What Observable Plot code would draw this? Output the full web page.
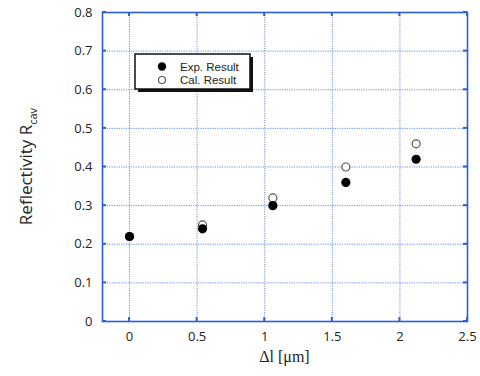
<!DOCTYPE html>
<html>
<head>
<meta charset="utf-8">
<script src="https://cdn.jsdelivr.net/npm/d3@7"></script>
<script src="https://cdn.jsdelivr.net/npm/@observablehq/plot@0.6"></script>
<style>
  html, body { margin: 0; padding: 0; background: #fff; }
  #chart { width: 480px; height: 376px; }
</style>
</head>
<body>
<div id="chart"></div>
<script>
// Data
const deltaL = [0, 0.54, 1.06, 1.6, 2.12];
const expResult = [0.22, 0.24, 0.30, 0.36, 0.42];
const calResult = [0.22, 0.25, 0.32, 0.40, 0.46];
const xTicks = [0, 0.5, 1, 1.5, 2, 2.5];
const yTicks = [0, 0.1, 0.2, 0.3, 0.4, 0.5, 0.6, 0.7, 0.8];
const legendLabels = ["Exp. Result", "Cal. Result"];

const expData = deltaL.map((x, i) => ({x, y: expResult[i]}));
const calData = deltaL.map((x, i) => ({x, y: calResult[i]}));

const blue = "#2a5fd8";
const fmt = d => String(d);
const M = {left: 102, right: 13, top: 12, bottom: 55};

const plot = Plot.plot({
  width: 480,
  height: 376,
  marginLeft: M.left,
  marginRight: M.right,
  marginTop: M.top,
  marginBottom: M.bottom,
  style: {fontFamily: "'Open Sans', sans-serif", fontSize: "13px", color: "#222", background: "#fff"},
  x: {domain: [-0.2, 2.5], ticks: xTicks, tickFormat: fmt, label: null},
  y: {domain: [0, 0.8], ticks: yTicks, tickFormat: fmt, label: null},
  marks: [
    Plot.gridX(xTicks, {stroke: blue, strokeOpacity: 0.7, strokeDasharray: "1.2,1.2", strokeWidth: 1}),
    Plot.gridY(yTicks, {stroke: blue, strokeOpacity: 0.7, strokeDasharray: "1.2,1.2", strokeWidth: 1}),
    Plot.axisX(xTicks, {tickSize: 0, tickPadding: 10, tickFormat: fmt, fill: "#222", fontSize: 13}),
    Plot.axisY(yTicks, {tickSize: 0, tickPadding: 10, tickFormat: fmt, fill: "#222", fontSize: 13}),
    Plot.frame({stroke: blue, strokeWidth: 1.6}),
    Plot.dot(calData, {x: "x", y: "y", r: 4, stroke: "#555", strokeWidth: 1.2, fill: "white"}),
    Plot.dot(expData, {x: "x", y: "y", r: 4.6, fill: "black", stroke: "none"})
  ]
});

const svg = d3.select(plot);
document.getElementById("chart").appendChild(plot);

// inward ticks on the frame, derived from scales
const xs = plot.scale("x"), ys = plot.scale("y");
const pL = M.left, pR = 480 - M.right, pT = M.top, pB = 376 - M.bottom;
const tk = svg.append("g").attr("stroke", blue).attr("stroke-width", 2);
xTicks.forEach(t => {
  const px = xs.apply(t);
  tk.append("line").attr("x1", px).attr("x2", px).attr("y1", pB).attr("y2", pB - 4);
  tk.append("line").attr("x1", px).attr("x2", px).attr("y1", pT).attr("y2", pT + 4);
});
yTicks.forEach(t => {
  const py = ys.apply(t);
  tk.append("line").attr("x1", pL).attr("x2", pL + 4).attr("y1", py).attr("y2", py);
  tk.append("line").attr("x1", pR).attr("x2", pR - 4).attr("y1", py).attr("y2", py);
});

// axis titles
svg.append("text")
  .attr("x", (pL + pR) / 2).attr("y", 362)
  .attr("text-anchor", "middle")
  .attr("font-family", "'Liberation Serif', serif")
  .attr("font-size", 16).attr("fill", "#222")
  .text("Δl [μm]");

const yl = svg.append("text")
  .attr("transform", `translate(32,${(pT + pB) / 2}) rotate(-90)`)
  .attr("text-anchor", "middle")
  .attr("font-family", "'Open Sans', sans-serif")
  .attr("font-size", 17).attr("fill", "#222");
yl.append("tspan").text("Reflectivity R");
yl.append("tspan").attr("font-size", 11).attr("dy", 5).text("cav");

// legend
const lg = svg.append("g");
lg.append("rect").attr("x", 138).attr("y", 57).attr("width", 115).attr("height", 35).attr("fill", "#111");
lg.append("rect").attr("x", 135).attr("y", 54).attr("width", 115).attr("height", 35)
  .attr("fill", "white").attr("stroke", "#111").attr("stroke-width", 1.5);
lg.append("circle").attr("cx", 162).attr("cy", 66.5).attr("r", 4.2).attr("fill", "black");
lg.append("circle").attr("cx", 162).attr("cy", 80).attr("r", 3.5).attr("fill", "white").attr("stroke", "#555").attr("stroke-width", 1.1);
legendLabels.forEach((s, i) => {
  lg.append("text").attr("x", 180).attr("y", 70.5 + i * 13.8)
    .attr("text-anchor", "start")
    .attr("font-family", "'Liberation Sans', sans-serif").attr("font-size", 11.5).attr("fill", "#222")
    .text(s);
});
</script>
</body>
</html>
